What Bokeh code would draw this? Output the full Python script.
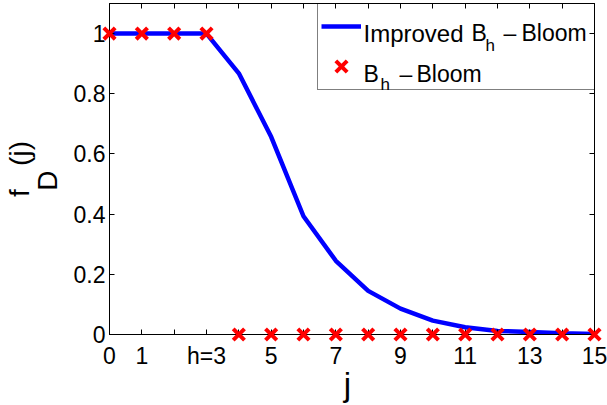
import math
from bokeh.plotting import figure
from bokeh.models import (Range1d, FixedTicker, LinearAxis, Label, Legend, LegendItem)
from bokeh.embed import file_html
from bokeh.resources import INLINE

# ---------------- data ----------------
j = list(range(16))
improved_bh_bloom = [1.0, 1.0, 1.0, 1.0, 0.868, 0.657, 0.393, 0.245, 0.145,
                     0.086, 0.046, 0.024, 0.012, 0.008, 0.004, 0.002]
bh_bloom = [1, 1, 1, 1, 0, 0, 0, 0, 0, 0, 0, 0, 0, 0, 0, 0]

x_ticks = list(range(16))
x_tick_labels = {0: "0", 1: "1", 2: "", 3: "h=3", 4: "", 5: "5", 6: "", 7: "7",
                 8: "", 9: "9", 10: "", 11: "11", 12: "", 13: "13", 14: "", 15: "15"}
y_ticks = [0, 0.2, 0.4, 0.6, 0.8, 1.0]
y_tick_labels = {0: "0", 0.2: "0.2", 0.4: "0.4", 0.6: "0.6", 0.8: "0.8", 1.0: "1"}

FONT = "Liberation Sans"
NB = "\u00a0"

p = figure(width=607, height=405, output_backend="svg", toolbar_location=None,
           x_range=Range1d(0, 15), y_range=Range1d(0, 1.1),
           x_axis_location=None, y_axis_location=None,
           min_border_left=103, min_border_right=13, min_border_top=3, min_border_bottom=69)
p.xgrid.visible = False
p.ygrid.visible = False
p.outline_line_color = "black"
p.outline_line_width = 1
p.background_fill_color = "white"
p.border_fill_color = "white"


def style_axis(ax, show_labels):
    ax.axis_line_color = "black"
    ax.axis_line_width = 1
    ax.major_tick_line_color = "black"
    ax.major_tick_in = 5
    ax.major_tick_out = 0
    ax.minor_tick_line_color = None
    ax.major_label_text_font = FONT
    ax.major_label_text_color = "black"
    ax.axis_label_text_font = FONT
    ax.axis_label_text_font_style = "normal"
    ax.axis_label_text_color = "black"
    if show_labels:
        ax.major_label_text_font_size = "23px"
    else:
        ax.major_label_text_font_size = "0px"
        ax.major_label_standoff = 0


bottom = LinearAxis(ticker=FixedTicker(ticks=x_ticks), major_label_overrides=x_tick_labels,
                    axis_label="j" + NB)
style_axis(bottom, True)
bottom.major_label_standoff = 8
bottom.axis_label_text_font_size = "33px"
bottom.axis_label_standoff = -6

top = LinearAxis(ticker=FixedTicker(ticks=x_ticks),
                 major_label_overrides={t: "" for t in x_ticks})
style_axis(top, False)

left = LinearAxis(ticker=FixedTicker(ticks=y_ticks), major_label_overrides=y_tick_labels,
                  axis_label="D" + NB * 3)
style_axis(left, True)
left.major_label_standoff = 4
left.axis_label_text_font_size = "28px"
left.axis_label_standoff = 8

left_outer = LinearAxis(ticker=FixedTicker(ticks=[]), axis_label="f" + NB * 3 + "(j)")
style_axis(left_outer, False)
left_outer.axis_line_color = None
left_outer.major_tick_line_color = None
left_outer.axis_label_text_font_size = "28px"
left_outer.axis_label_standoff = -6

right = LinearAxis(ticker=FixedTicker(ticks=y_ticks),
                   major_label_overrides={t: "" for t in y_ticks})
style_axis(right, False)

p.add_layout(bottom, "below")
p.add_layout(top, "above")
p.add_layout(left, "left")
p.add_layout(left_outer, "left")
p.add_layout(right, "right")

line_r = p.line(j, improved_bh_bloom, line_color="#0000ff", line_width=4.5)
mark_r = p.scatter(j, bh_bloom, marker="x", size=16, line_color="#ff0000",
                   line_width=4, level="overlay")

legend = Legend(items=[LegendItem(label=" ", renderers=[line_r]),
                       LegendItem(label=" ", renderers=[mark_r])],
                location=(208, 244), margin=0, padding=3, spacing=-2,
                glyph_width=40, glyph_height=40, label_height=35, label_width=231,
                label_standoff=0, label_text_font_size="1px",
                border_line_color="black", border_line_width=1,
                background_fill_color="white", background_fill_alpha=0.0)
p.add_layout(legend)


def lab(text, x, y, size):
    p.add_layout(Label(x=x, y=y, x_units="screen", y_units="screen", text=text,
                       text_font=FONT, text_font_size=size, text_color="black",
                       text_align="left", text_baseline="alphabetic", level="overlay"))


# legend texts
lab("Improved", 254, 301.5, "24px")
lab("B", 362, 301.5, "23px")
lab("h", 376, 289, "17px")
lab("\u2013", 394, 301.5, "23px")
lab("Bloom", 412, 301.5, "23px")
lab("B", 254, 261, "23px")
lab("h", 271, 250, "17px")
lab("\u2013", 290, 261, "23px")
lab("Bloom", 307, 261, "23px")

open("out.html", "w").write(file_html(p, INLINE))
